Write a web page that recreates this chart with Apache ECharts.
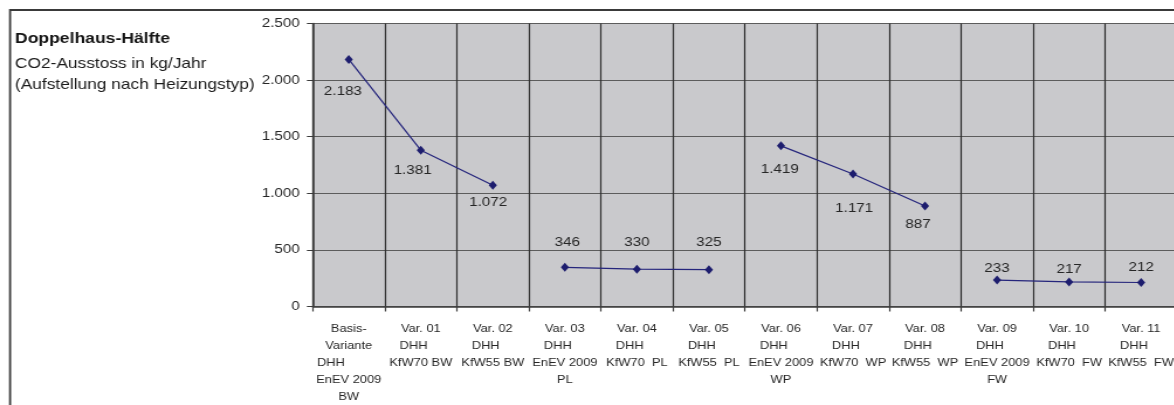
<!DOCTYPE html>
<html>
<head>
<meta charset="utf-8">
<title>Doppelhaus-Hälfte – CO2-Ausstoss</title>
<script src="https://cdn.jsdelivr.net/npm/echarts@6/dist/echarts.min.js"></script>
<style>
  html, body { margin: 0; padding: 0; background: #fff; overflow: hidden; }
  #wrap { width: 1174px; height: 405px; overflow: hidden; }
  /* the chart is laid out on a narrower canvas and widened, so the Arial-like text gets its wide set */
  #chart { width: 1004px; height: 405px; transform: scaleX(1.17); transform-origin: 0 0; }
</style>
</head>
<body>
<div id="wrap"><div id="chart"></div></div>
<script>
// Variants (categories) of the semi-detached house
const categories = [
  'Basis-\nVariante\nDHH          \nEnEV 2009\nBW',
  'Var. 01\nDHH    \nKfW70 BW',
  'Var. 02\nDHH    \nKfW55 BW',
  'Var. 03\nDHH    \nEnEV 2009\nPL',
  'Var. 04\nDHH    \nKfW70  PL',
  'Var. 05\nDHH    \nKfW55  PL',
  'Var. 06\nDHH    \nEnEV 2009\nWP',
  'Var. 07\nDHH    \nKfW70  WP',
  'Var. 08\nDHH    \nKfW55  WP',
  'Var. 09\nDHH    \nEnEV 2009\nFW',
  'Var. 10\nDHH    \nKfW70  FW',
  'Var. 11\nDHH    \nKfW55  FW'
];

// CO2 emissions in kg per year
const co2Values = [2183, 1381, 1072, 346, 330, 325, 1419, 1171, 887, 233, 217, 212];

// heating types: Brennwert, Pellets, Wärmepumpe, Fernwärme (indices into categories)
const heatingGroups = [[0, 1, 2], [3, 4, 5], [6, 7, 8], [9, 10, 11]];

// value axis ticks
const yMin = 0;
const yMax = 2500;
const yStep = 500;

const titleLines = ['Doppelhaus-Hälfte', 'CO2-Ausstoss in kg/Jahr', '(Aufstellung nach Heizungstyp)'];

// placement of each value label relative to its marker
const labelOffsets = [[-5, 32], [-7, 20], [-4, 17], [2, -25], [0, -27], [0, -27],
                      [-1, 24], [1, 34], [-6, 18], [0, -12], [0, -13], [0, -15]];

const FONT = '"Liberation Sans", Arial, sans-serif';
const fmt = v => String(v).replace(/\B(?=(\d{3})+(?!\d))/g, '.');

const series = heatingGroups.map(group => ({
  type: 'line',
  data: co2Values.map((v, i) => group.includes(i)
    ? { value: v, label: { offset: labelOffsets[i] } }
    : null),
  connectNulls: false,
  symbol: 'diamond',
  symbolSize: [7, 9],
  lineStyle: { color: '#25257c', width: 1.2 },
  itemStyle: { color: '#1d1d6e' },
  label: {
    show: true,
    position: 'inside',
    formatter: p => fmt(p.value),
    fontFamily: FONT,
    fontSize: 13,
    color: '#262626'
  },
  emphasis: { disabled: true },
  animation: false,
  z: 5
}));

const chart = echarts.init(document.getElementById('chart'), null, { renderer: 'canvas' });
chart.setOption({
  animation: false,
  grid: {
    left: 267.3, top: 23.5, width: 738.8, height: 283,
    show: true, backgroundColor: '#c9c9cc', borderColor: '#a9a9a9', borderWidth: 1,
    containLabel: false, outerBoundsMode: 'none'
  },
  xAxis: {
    type: 'category',
    data: categories,
    boundaryGap: true,
    axisLine: { lineStyle: { color: '#3c3c3c', width: 1.5 } },
    axisTick: { show: true, interval: 0, length: 5, lineStyle: { color: '#3c3c3c', width: 1.2 } },
    splitLine: { show: true, interval: 0, lineStyle: { color: '#2e2e2e', width: 1.2 } },
    axisLabel: {
      interval: 0, fontFamily: FONT, fontSize: 11, lineHeight: 17,
      margin: 14, color: '#262626'
    }
  },
  yAxis: {
    type: 'value',
    min: yMin, max: yMax, interval: yStep,
    axisLine: { show: true, lineStyle: { color: '#3c3c3c', width: 1.5 } },
    axisTick: { show: true, length: 5, lineStyle: { color: '#3c3c3c', width: 1 } },
    splitLine: { show: true, lineStyle: { color: '#5c5c5c', width: 1 } },
    axisLabel: { formatter: fmt, fontFamily: FONT, fontSize: 13, margin: 11, color: '#262626' }
  },
  graphic: [
    {
      type: 'rect', silent: true, z: 0,
      shape: { x: 8.6, y: 10, width: 1200, height: 600 },
      style: { fill: 'none', stroke: '#3a3a3a', lineWidth: 1.8 }
    },
    {
      type: 'text', x: 12.8, y: 38.7, silent: true,
      style: { text: titleLines[0], font: 'bold 15px ' + FONT, fill: '#141414', verticalAlign: 'middle' }
    },
    {
      type: 'text', x: 12.8, y: 63.7, silent: true,
      style: { text: titleLines[1], font: '14.8px ' + FONT, fill: '#1a1a1a', verticalAlign: 'middle' }
    },
    {
      type: 'text', x: 12.8, y: 85.2, silent: true,
      style: { text: titleLines[2], font: '14.8px ' + FONT, fill: '#1a1a1a', verticalAlign: 'middle' }
    }
  ],
  series: series
});
</script>
</body>
</html>
